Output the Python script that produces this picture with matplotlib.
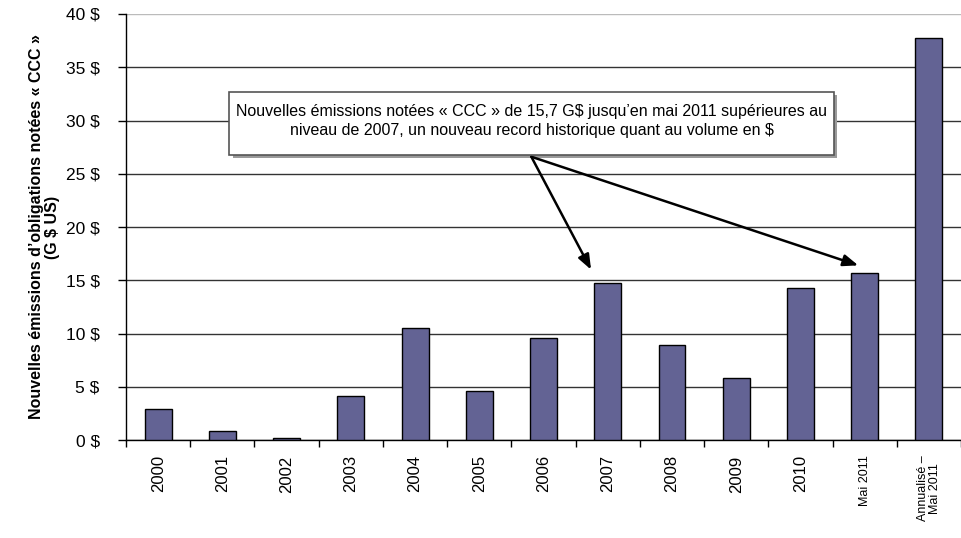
import matplotlib
matplotlib.use("Agg")
import matplotlib.pyplot as plt
from matplotlib.patches import Rectangle
import numpy as np

categories = ["2000", "2001", "2002", "2003", "2004", "2005", "2006", "2007",
              "2008", "2009", "2010", "Mai 2011", "Annualisé –\nMai 2011"]
values = [2.9, 0.85, 0.2, 4.1, 10.5, 4.6, 9.6, 14.7, 8.9, 5.8, 14.3, 15.7, 37.7]
y_ticks = [0, 5, 10, 15, 20, 25, 30, 35, 40]
y_tick_labels = [f"{v} $" for v in y_ticks]

plt.rcParams["font.family"] = ["Liberation Sans", "DejaVu Sans"]

fig = plt.figure(figsize=(9.62, 5.38), dpi=100)
ax = fig.add_axes([0.131, 0.182, 0.868, 0.792])

x = np.arange(len(categories))
ax.bar(x, values, width=0.42, color="#636394", edgecolor="black", linewidth=1.0, zorder=3)

ax.set_xlim(-0.5, len(categories) - 0.5)
ax.set_ylim(0, 40)
ax.set_yticks(y_ticks)
ax.set_yticklabels(y_tick_labels, fontsize=12.5)
ax.yaxis.grid(True, color="#333333", linewidth=1.0, zorder=0)
ax.yaxis.get_gridlines()[-1].set_color("#bbbbbb")
ax.tick_params(axis="y", direction="out", length=6, width=1, pad=13)

# category separators as ticks, labels at bar centres
ax.set_xticks(np.arange(len(categories) + 1) - 0.5)
ax.set_xticklabels([])
ax.tick_params(axis="x", which="major", direction="out", length=5, width=1)
ax.set_xticks(x, minor=True)
ax.set_xticklabels(categories, minor=True, rotation=90, fontsize=12,
                   va="top", ha="center", linespacing=1.0)
ax.tick_params(axis="x", which="minor", length=0, pad=11)
for lbl in ax.get_xticklabels(minor=True):
    if "Mai" in lbl.get_text():
        lbl.set_fontsize(9)

for side in ("top", "right"):
    ax.spines[side].set_visible(False)
for side in ("left", "bottom"):
    ax.spines[side].set_color("black")
    ax.spines[side].set_linewidth(1.0)

ax.set_ylabel("Nouvelles émissions d’obligations notées « CCC »\n(G $ US)",
              fontsize=11.5, fontweight="bold", labelpad=4, linespacing=1.05)

# annotation box with a soft shadow
bx0, bx1, by0, by1 = 1.11, 10.52, 26.8, 32.7
ax.add_patch(Rectangle((bx0 + 0.05, by0 - 0.3), bx1 - bx0, by1 - by0,
                       facecolor="#9a9a9a", edgecolor="none", zorder=5))
ax.add_patch(Rectangle((bx0, by0), bx1 - bx0, by1 - by0,
                       facecolor="white", edgecolor="#555555", linewidth=1.2, zorder=6))
note = ("Nouvelles émissions notées « CCC » de 15,7 G$ jusqu’en mai 2011 supérieures au\n"
        "niveau de 2007, un nouveau record historique quant au volume en $")
ax.text((bx0 + bx1) / 2, (by0 + by1) / 2 + 0.2, note, ha="center", va="center",
        fontsize=11.5, zorder=7, linespacing=1.3)

arrow_start = (5.81, 26.6)
for target in [(6.74, 16.0), (10.9, 16.4)]:
    ax.annotate("", xy=target, xytext=arrow_start,
                arrowprops=dict(arrowstyle="-|>,head_length=0.9,head_width=0.35",
                                color="black", linewidth=1.8, shrinkA=0, shrinkB=0),
                zorder=5)

fig.savefig("out.png", dpi=100)
